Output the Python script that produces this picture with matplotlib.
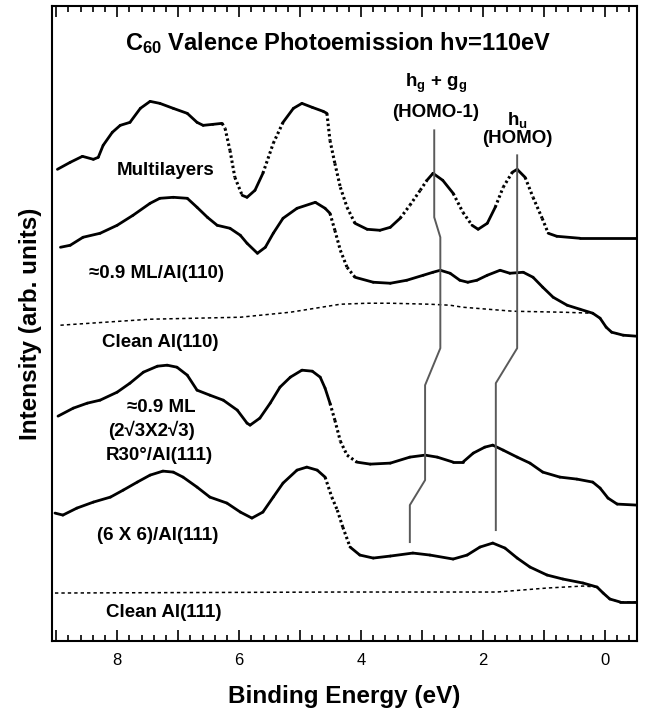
import matplotlib
matplotlib.use("Agg")
import matplotlib.pyplot as plt
from matplotlib.ticker import MultipleLocator, FuncFormatter

# --- données : énergie de liaison (eV), intensité (u. arb.)
multi_e = [8.98, 8.77, 8.57, 8.39, 8.31, 8.23, 8.08, 7.95, 7.79, 7.62, 7.46, 7.30, 7.08, 6.85,
           6.69, 6.59, 6.43, 6.28, 6.23, 6.15, 6.07, 5.95, 5.87, 5.74, 5.61, 5.44, 5.28, 5.11,
           4.97, 4.80, 4.62, 4.56, 4.51, 4.43, 4.34, 4.23, 4.10, 3.90, 3.69, 3.52, 3.36, 3.20,
           3.03, 2.92, 2.82, 2.66, 2.49, 2.33, 2.18, 2.08, 1.93, 1.80, 1.67, 1.52, 1.44, 1.31,
           1.18, 1.03, 0.93, 0.79, 0.41, -0.52]
multi_i = [472, 479, 485, 482, 484, 496, 509, 516, 519, 533, 540, 538, 533, 528,
           519, 516, 517, 518, 513, 491, 464, 446, 444, 451, 468, 498, 519, 533,
           538, 534, 530, 528, 501, 478, 454, 434, 418, 412, 411, 414, 423, 436,
           451, 461, 468, 461, 448, 429, 416, 412, 418, 434, 454, 469, 472, 464,
           444, 423, 408, 405, 403, 403]

al110_ml_e = [8.93, 8.77, 8.56, 8.28, 8.00, 7.74, 7.46, 7.30, 7.08, 6.85, 6.69, 6.52, 6.36,
              6.15, 5.98, 5.87, 5.70, 5.57, 5.44, 5.28, 5.05, 4.75, 4.59, 4.51, 4.43, 4.34,
              4.23, 4.10, 3.80, 3.52, 3.25, 2.98, 2.82, 2.70, 2.54, 2.38, 2.25, 2.10, 1.93,
              1.72, 1.56, 1.34, 1.18, 1.02, 0.85, 0.62, 0.41, 0.20, 0.08, -0.02, -0.11,
              -0.30, -0.52]
al110_ml_i = [394, 396, 404, 408, 416, 426, 438, 443, 444, 443, 434, 424, 416,
              413, 406, 398, 388, 394, 408, 423, 433, 439, 433, 428, 411, 391,
              374, 364, 359, 358, 361, 366, 369, 371, 368, 361, 359, 361, 366,
              371, 368, 369, 364, 354, 344, 336, 332, 328, 323, 314, 309,
              306, 305]

al110_e = [8.93, 7.46, 5.98, 5.16, 4.34, 3.90, 3.52, 2.87, 2.54, 2.33, 1.51, 0.69, 0.20,
           0.08, -0.02, -0.11, -0.30, -0.52]
al110_i = [316, 322, 324, 329, 337, 338, 338, 337, 336, 334, 330, 329, 328,
           323, 314, 309, 306, 305]

r30_e = [8.97, 8.72, 8.49, 8.28, 8.00, 7.79, 7.57, 7.34, 7.18, 7.02, 6.85, 6.69, 6.48, 6.26,
         6.03, 5.87, 5.82, 5.66, 5.49, 5.33, 5.16, 4.97, 4.80, 4.67, 4.59, 4.51, 4.43, 4.34,
         4.23, 4.07, 3.85, 3.52, 3.20, 2.95, 2.75, 2.49, 2.33, 2.16, 1.97, 1.84, 1.67, 1.44,
         1.23, 1.02, 0.74, 0.46, 0.20, 0.08, -0.05, -0.20, -0.52]
r30_i = [225, 233, 238, 241, 249, 258, 269, 275, 276, 274, 266, 251, 246, 241,
         231, 218, 216, 223, 238, 254, 264, 271, 270, 264, 253, 238, 221, 200,
         186, 179, 177, 178, 184, 186, 184, 179, 179, 188, 194, 196, 191, 184,
         178, 169, 164, 162, 159, 153, 143, 137, 136]

six_e = [9.02, 8.89, 8.66, 8.39, 8.11, 7.90, 7.67, 7.46, 7.25, 7.08, 6.92, 6.69, 6.48, 6.20,
         5.98, 5.79, 5.61, 5.44, 5.28, 5.05, 4.89, 4.72, 4.59, 4.48, 4.39, 4.30, 4.18, 4.02,
         3.80, 3.52, 3.15, 2.87, 2.49, 2.26, 2.05, 1.84, 1.64, 1.44, 1.23, 0.95, 0.69, 0.36,
         0.13, 0.03, -0.08, -0.25, -0.52]
six_i = [128, 126, 133, 139, 144, 151, 159, 166, 170, 169, 164, 154, 144, 138,
         129, 123, 129, 144, 158, 171, 174, 171, 164, 144, 131, 114, 94, 86,
         83, 85, 88, 86, 82, 86, 94, 98, 93, 83, 74, 66, 62, 58,
         54, 48, 42, 39, 39]

al111_e = [9.02, 4.34, 2.87, 1.77, 0.95, 0.36, 0.13, 0.03, -0.08, -0.25, -0.52]
al111_i = [48, 49, 49, 49, 53, 55, 54, 48, 42, 39, 39]

# repères des pics HOMO-1 et HOMO
homo1_e = [2.80, 2.80, 2.70, 2.70, 2.95, 2.95, 3.20, 3.20]
homo1_i = [511, 424, 404, 293, 256, 161, 136, 99]
homo_e = [1.44, 1.44, 1.79, 1.79]
homo_i = [486, 293, 258, 111]

labels = ["Multilayers", "≈0.9 ML/Al(110)", "Clean Al(110)", "≈0.9 ML",
          "(2√3X2√3)", "R30°/Al(111)", "(6 X 6)/Al(111)", "Clean Al(111)"]
label_e = [7.21, 7.36, 7.30, 7.28, 7.44, 7.31, 7.34, 7.23]
label_i = [471, 368, 299, 234, 211, 186, 106, 29]

# zones où les points de mesure sont espacés (pentes raides) -> aspect pointillé
multi_sparse = [(6.28, 5.95), (5.70, 5.28), (4.56, 4.10), (3.36, 2.92), (2.60, 2.18),
                (1.85, 1.52), (1.31, 0.93)]
al110_ml_sparse = [(4.51, 4.10)]
r30_sparse = [(4.51, 4.07)]
six_sparse = [(4.59, 4.18)]

plt.rcParams['font.family'] = ['Liberation Sans', 'DejaVu Sans']
plt.rcParams['mathtext.fontset'] = 'custom'
plt.rcParams['mathtext.rm'] = 'Liberation Sans:bold'
plt.rcParams['mathtext.it'] = 'Liberation Sans:bold'
plt.rcParams['mathtext.bf'] = 'Liberation Sans:bold'


def plot_spectrum(ax, e, i, sparse):
    """Trace plein, sauf sur les zones 'sparse' tracées en pointillé serré."""
    in_sparse = lambda a, b: any(hi >= max(a, b) - 1e-9 and lo <= min(a, b) + 1e-9
                                 for hi, lo in sparse)
    for k in range(len(e) - 1):
        if in_sparse(e[k], e[k + 1]):
            ax.plot(e[k:k + 2], i[k:k + 2], color='black', lw=2.2,
                    linestyle=(0, (0.8, 0.9)))
        else:
            ax.plot(e[k:k + 2], i[k:k + 2], color='black', lw=2.0,
                    solid_capstyle='round')


fig = plt.figure(figsize=(6.49, 7.15), dpi=100)
ax = fig.add_axes([0.080, 0.1035, 0.901, 0.8875])

# --- spectres
plot_spectrum(ax, multi_e, multi_i, multi_sparse)
plot_spectrum(ax, al110_ml_e, al110_ml_i, al110_ml_sparse)
plot_spectrum(ax, r30_e, r30_i, r30_sparse)
plot_spectrum(ax, six_e, six_i, six_sparse)
for e, i in [(al110_e, al110_i), (al111_e, al111_i)]:
    ax.plot(e, i, color='black', lw=1.1, linestyle=(0, (2.2, 2.0)))

ax.plot(homo1_e, homo1_i, color='#5a5a5a', lw=1.4)
ax.plot(homo_e, homo_i, color='#5a5a5a', lw=1.4)

# --- textes
for t, x, y in zip(labels, label_e, label_i):
    ax.text(x, y, t, ha='center', va='center', fontsize=13.5, fontweight='bold')

ax.text(2.77, 558, r'h$_g$ + g$_g$', ha='center', va='center', fontsize=13.5, fontweight='bold')
ax.text(2.77, 529, '(HOMO-1)', ha='center', va='center', fontsize=13.5, fontweight='bold')
ax.text(1.44, 521, r'h$_u$', ha='center', va='center', fontsize=13.5, fontweight='bold')
ax.text(1.44, 503, '(HOMO)', ha='center', va='center', fontsize=13.5, fontweight='bold')

ax.text(0.49, 0.942, r'C$_{60}$ Valence Photoemission hν=110eV', transform=ax.transAxes,
        ha='center', va='center', fontsize=17, fontweight='bold')

# --- axes
ax.set_xlim(9.07, -0.52)
ax.set_ylim(0, 635)
ax.xaxis.set_major_locator(MultipleLocator(1))
ax.xaxis.set_minor_locator(MultipleLocator(0.2))
ax.xaxis.set_major_formatter(FuncFormatter(lambda v, p: "%d" % round(v) if round(v) % 2 == 0 else ""))
ax.tick_params(axis='x', which='both', direction='in', top=True, bottom=True, width=1.2,
               labelsize=12, pad=9)
ax.tick_params(axis='x', which='major', length=8)
ax.tick_params(axis='x', which='minor', length=4.5)
ax.set_yticks([])
for s in ax.spines.values():
    s.set_linewidth(1.5)

ax.set_xlabel("Binding Energy (eV)", fontsize=17.5, fontweight='bold', labelpad=12)
ax.set_ylabel("Intensity (arb. units)", fontsize=17.5, fontweight='bold', labelpad=7)

fig.savefig("out.png", dpi=100)
